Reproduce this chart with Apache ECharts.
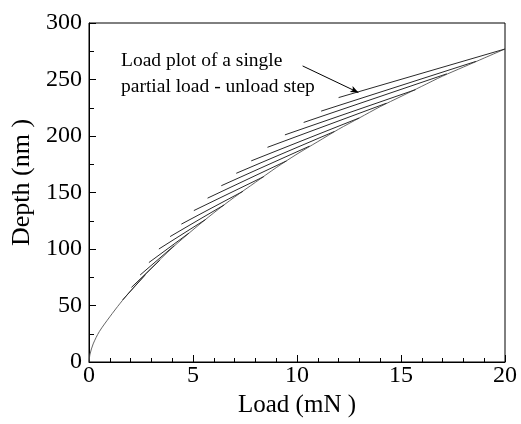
<!DOCTYPE html>
<html>
<head>
<meta charset="utf-8">
<script src="https://cdn.jsdelivr.net/npm/echarts@6/dist/echarts.min.js"></script>
<style>
html,body{margin:0;padding:0;background:#fff;}
#chart{width:521px;height:424px;}
</style>
</head>
<body>
<div id="chart"></div>
<script>
// Main loading curve (Load mN, Depth nm)
const loadP = [0, 0.05, 0.2, 0.5, 1, 1.5, 2, 3, 4, 5, 6, 7, 8, 9, 10, 11, 12, 13, 14, 15, 16, 17, 18, 19, 20];
const loadH = [0, 7, 16, 27, 40, 52, 63, 83, 101, 117, 132, 146, 159, 172, 184, 195, 206, 216, 226, 235, 244, 253, 261, 269, 277];

// Partial unload steps: from (stepPmax, stepHmax) down to (stepPmin, stepHmin)
const stepPmax = [2.7, 3.4, 4.1, 4.8, 5.6, 6.5, 7.4, 8.4, 9.5, 10.6, 11.8, 13.0, 14.3, 15.7, 17.2, 18.6, 20];
const stepHmax = [77, 90, 103, 114, 126, 139, 151, 164, 178, 191, 204, 216, 229, 241, 255, 266, 277];
const stepPmin = [1.62, 2.04, 2.46, 2.88, 3.36, 3.9, 4.44, 5.04, 5.7, 6.36, 7.08, 7.8, 8.58, 9.42, 10.32, 11.16, 12.0];
const stepHmin = [55, 66, 77, 88, 100, 111, 122, 134, 145, 156, 167, 178, 190, 201, 212, 222, 234];

// Annotation arrow (data coords)
const arrowFrom = [10.27, 262];
const arrowTo = [12.95, 238.5];

const xTickValues = [0, 5, 10, 15, 20];
const yTickValues = [0, 50, 100, 150, 200, 250, 300];

const FONT = "'Liberation Serif','Times New Roman',serif";

const series = [];
series.push({
  type: 'line',
  data: loadP.map((p, i) => [p, loadH[i]]),
  smooth: 0.3,
  showSymbol: false,
  lineStyle: { color: '#555', width: 0.9 },
  z: 2
});
stepPmax.forEach((p, i) => {
  series.push({
    type: 'line',
    data: [[stepPmin[i], stepHmin[i]], [p, stepHmax[i]]],
    showSymbol: false,
    lineStyle: { color: '#2a2a2a', width: 1 },
    z: 3
  });
});
series.push({
  type: 'line',
  data: [],
  markLine: {
    silent: true,
    symbol: ['none', 'arrow'],
    symbolSize: [5, 8],
    label: { show: false },
    lineStyle: { color: '#000', width: 1, type: 'solid' },
    data: [[{ coord: arrowFrom }, { coord: arrowTo }]]
  }
});

const chart = echarts.init(document.getElementById('chart'), null, { renderer: 'canvas' });
chart.setOption({
  animation: false,
  backgroundColor: '#fff',
  grid: { left: 89, right: 16, top: 23, bottom: 62, show: true, borderColor: '#000', borderWidth: 1, backgroundColor: 'transparent' },
  xAxis: {
    type: 'value', min: xTickValues[0], max: xTickValues[xTickValues.length - 1], interval: 5,
    axisLine: { lineStyle: { color: '#000', width: 1 } },
    axisTick: { inside: true, length: 7, lineStyle: { color: '#000' } },
    minorTick: { show: true, splitNumber: 5, length: 4, lineStyle: { color: '#000' } },
    splitLine: { show: false },
    axisLabel: { color: '#000', fontFamily: FONT, fontSize: 24, margin: 2 },
    name: 'Load (mN )', nameLocation: 'middle', nameGap: 28,
    nameTextStyle: { color: '#000', fontFamily: FONT, fontSize: 25 }
  },
  yAxis: {
    type: 'value', min: yTickValues[0], max: yTickValues[yTickValues.length - 1], interval: 50,
    axisLine: { lineStyle: { color: '#000', width: 1 } },
    axisTick: { inside: true, length: 7, lineStyle: { color: '#000' } },
    minorTick: { show: true, splitNumber: 2, length: 5, lineStyle: { color: '#000' } },
    splitLine: { show: false },
    axisLabel: { color: '#000', fontFamily: FONT, fontSize: 24, margin: 7 },
    name: 'Depth (nm )', nameLocation: 'middle', nameGap: 52,
    nameTextStyle: { color: '#000', fontFamily: FONT, fontSize: 26, padding: [0, 0, 0, 20] }
  },
  graphic: [
    { type: 'text', left: 121, top: 51, style: { text: 'Load plot of a single', font: '19.5px ' + FONT, fill: '#000' } },
    { type: 'text', left: 121, top: 77, style: { text: 'partial load - unload step', font: '19.5px ' + FONT, fill: '#000' } }
  ],
  series: series
});
</script>
</body>
</html>
